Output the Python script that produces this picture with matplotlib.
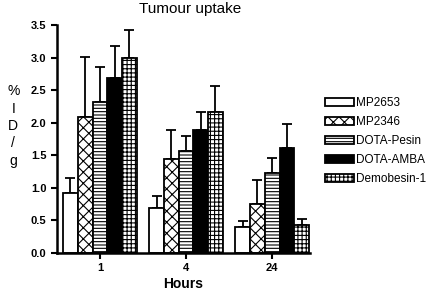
import matplotlib
matplotlib.use("Agg")
import matplotlib.pyplot as plt
import numpy as np

plt.rcParams.update({"font.family": ["Liberation Sans", "DejaVu Sans"],
                     "hatch.linewidth": 0.8})

hours = ["1", "4", "24"]
series = ["MP2653", "MP2346", "DOTA-Pesin", "DOTA-AMBA", "Demobesin-1"]
mp2653 = [0.92, 0.69, 0.39]
mp2346 = [2.08, 1.44, 0.74]
dota_pesin = [2.31, 1.57, 1.23]
dota_amba = [2.69, 1.88, 1.61]
demobesin = [3.00, 2.16, 0.42]
err_mp2653 = [0.23, 0.18, 0.10]
err_mp2346 = [0.93, 0.44, 0.37]
err_dota_pesin = [0.54, 0.23, 0.23]
err_dota_amba = [0.48, 0.28, 0.37]
err_demobesin = [0.43, 0.40, 0.10]

values = [mp2653, mp2346, dota_pesin, dota_amba, demobesin]
errors = [err_mp2653, err_mp2346, err_dota_pesin, err_dota_amba, err_demobesin]
faces = ["white", "white", "white", "black", "white"]
hatches = [None, "xxx", "-----", None, "++++"]

fig = plt.figure(figsize=(4.41, 2.91), dpi=100)
ax = fig.add_axes([0.129, 0.132, 0.574, 0.782])

x = np.arange(len(hours))
w = 0.171
for i, (v, e) in enumerate(zip(values, errors)):
    pos = x + (i - 2) * w
    ax.bar(pos, v, w, color=faces[i], edgecolor="black", linewidth=1.3,
           hatch=hatches[i], label=series[i], zorder=2)
    ax.errorbar(pos, v, yerr=[np.zeros(len(v)), e], fmt="none",
                ecolor="black", elinewidth=1.3, capsize=3.5, capthick=1.3,
                zorder=1)

ax.set_xlim(-0.5, 2.44)
ax.set_ylim(0, 3.5)
ax.set_yticks(np.arange(0, 3.51, 0.5))
ax.set_yticklabels([f"{t:.1f}" for t in np.arange(0, 3.51, 0.5)],
                   fontweight="bold", fontsize=8)
ax.set_xticks(x)
ax.set_xticklabels(hours, fontweight="bold", fontsize=8)
for s in ["top", "right"]:
    ax.spines[s].set_visible(False)
for s in ["left", "bottom"]:
    ax.spines[s].set_linewidth(1.8)
ax.tick_params(width=1.5, length=4)
ax.set_xlabel("Hours", fontweight="bold", fontsize=10, labelpad=3)
fig.text(0.43, 0.97, "Tumour uptake", fontsize=11, ha="center", va="center")
fig.text(0.03, 0.567, "%\nI\nD\n/\ng", fontsize=10, ha="center", va="center",
         linespacing=1.3)

ax.legend(loc="center left", bbox_to_anchor=(1.06, 0.49), frameon=False,
          fontsize=8.5, handlelength=2.45, handleheight=0.6, handletextpad=0.15,
          labelspacing=0.6, borderaxespad=0, borderpad=0)

fig.savefig("out.png", dpi=100)
